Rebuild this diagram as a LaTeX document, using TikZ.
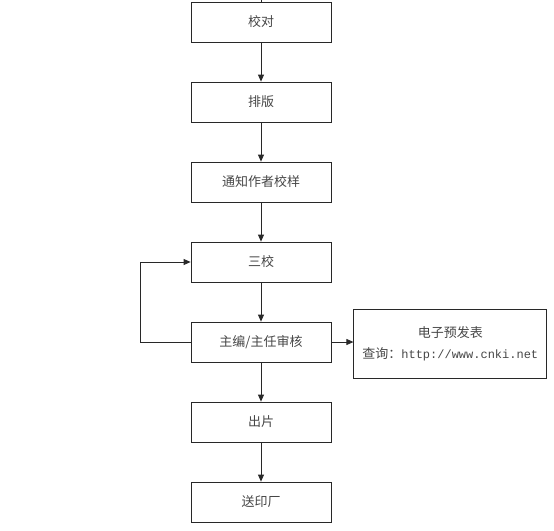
\documentclass[tikz,border=0pt]{standalone}
\usepackage{fontspec}
\newfontfamily\cjk{Noto Sans CJK SC}
\setmonofont{Liberation Mono}
\usetikzlibrary{arrows.meta, calc, positioning}
\definecolor{boxstroke}{RGB}{40,40,40}
\definecolor{textgray}{RGB}{70,70,70}
\tikzset{
  stepbox/.style={
    rectangle, draw=boxstroke, line width=0.8pt,
    minimum width=140pt, minimum height=40pt,
    inner sep=0pt, text=textgray,
    font=\cjk\fontsize{13}{15}\selectfont
  },
  notebox/.style={
    rectangle, draw=boxstroke, line width=0.8pt,
    minimum width=193pt, minimum height=69pt,
    align=center, text=textgray,
    font=\cjk\fontsize{13}{15}\selectfont
  },
  arrow/.style={-{Triangle[length=7pt,width=6pt]}, line width=0.8pt, color=boxstroke},
}
\begin{document}
\begin{tikzpicture}[x=1pt, y=1pt, node distance=39.2pt]

\useasboundingbox (0,0) rectangle (554,-530);

%% ─── 校对 / 排版 ─────────────────────────────────────────
\coordinate (top) at (261,0);
\node[stepbox] (jiaodui) at (261,-22) {校对};
\node[stepbox, below=of jiaodui] (paiban) {排版};

%% ─── 作者校样 / 三校 ──────────────────────────────────────
\node[stepbox, below=of paiban] (jiaoyang) {通知作者校样};
\node[stepbox, below=of jiaoyang] (sanjiao) {三校};

%% ─── 审核 ─────────────────────────────────────────────────
\node[stepbox, below=of sanjiao] (shenhe) {主编/主任审核};

\node[notebox, right=22pt of shenhe, yshift=-1.5pt]
  (yufa) {%
    电子预发表\\[6pt]
    查询：{\ttfamily\fontsize{12}{14}\selectfont http://www.cnki.net}
  };

%% ─── 出片 / 送印 ──────────────────────────────────────────
\node[stepbox, below=of shenhe] (chupian) {出片};
\node[stepbox, below=of chupian] (songyin) {送印厂};

%% ─── ARROWS ───────────────────────────────────────────────
\draw[line width=0.8pt, color=boxstroke] (top) -- (jiaodui.north);
\draw[arrow] (jiaodui.south) -- (paiban.north);
\draw[arrow] (paiban.south) -- (jiaoyang.north);
\draw[arrow] (jiaoyang.south) -- (sanjiao.north);
\draw[arrow] (sanjiao.south) -- (shenhe.north);
\draw[arrow] (shenhe.south) -- (chupian.north);
\draw[arrow] (chupian.south) -- (songyin.north);
\draw[arrow] (shenhe.east) -- (shenhe.east -| yufa.west);

%% feedback loop
\draw[arrow] (shenhe.west) -- ++(-50,0) |- (sanjiao.west);

\end{tikzpicture}
\end{document}
